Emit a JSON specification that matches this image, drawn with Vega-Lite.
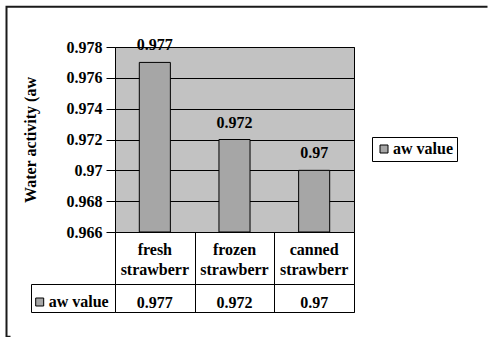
{
  "$schema": "https://vega.github.io/schema/vega-lite/v6.json",
  "autosize": {"type": "pad"},
  "padding": {"left": 5, "top": 5, "right": 0, "bottom": 0},
  "background": "white",
  "data": {"values": [
    {"sample": "fresh strawberr", "aw": 0.977, "series": "aw value"},
    {"sample": "frozen strawberr", "aw": 0.972, "series": "aw value"},
    {"sample": "canned strawberr", "aw": 0.97, "series": "aw value"}
  ]},
  "spacing": 0,
  "bounds": "flush",
  "resolve": {"scale": {"x": "independent", "y": "independent", "color": "independent"}, "legend": {"color": "independent"}},
  "config": {
    "font": "Liberation Serif",
    "view": {"stroke": "black", "strokeWidth": 1},
    "text": {"font": "Liberation Serif", "fontWeight": "bold", "fontSize": 16, "color": "black"}
  },
  "vconcat": [
    {
      "width": 239, "height": 185,
      "view": {"fill": "#C2C2C2", "stroke": "black"},
      "encoding": {"x": {"field": "sample", "type": "nominal", "sort": null, "scale": {"paddingInner": 0.61, "paddingOuter": 0.305}, "axis": null}},
      "layer": [
        {
          "mark": {"type": "bar", "stroke": "black", "strokeWidth": 1},
          "encoding": {
            "y": {"field": "aw", "type": "quantitative", "scale": {"domain": [0.966, 0.978], "zero": false, "nice": false},
              "axis": {"values": [0.966, 0.968, 0.97, 0.972, 0.974, 0.976, 0.978], "tickCount": 20, "labelOverlap": false, "format": ".3~f", "title": "Water activity (aw",
                "titleFont": "Liberation Serif", "titleFontSize": 16, "titleFontWeight": "bold", "titleColor": "black", "titlePadding": 28,
                "labelFont": "Liberation Serif", "labelFontSize": 16, "labelFontWeight": "bold", "labelColor": "black", "labelPadding": 4,
                "tickSize": 9, "tickColor": "black", "domain": false, "grid": true, "gridColor": "black", "gridOpacity": 1, "gridWidth": 1}},
            "y2": {"datum": 0.966},
            "color": {"field": "series", "type": "nominal", "scale": {"range": ["#A6A6A6"]},
              "legend": {"orient": "none", "legendX": 257, "legendY": 90, "title": null, "strokeColor": "black", "padding": 4,
                "symbolType": "square", "symbolSize": 64, "symbolStrokeColor": "black", "symbolStrokeWidth": 1, "symbolOpacity": 1,
                "labelFont": "Liberation Serif", "labelFontSize": 16, "labelFontWeight": "bold", "labelColor": "black", "labelOffset": 1}}
          }
        },
        {
          "mark": {"type": "text", "baseline": "bottom", "dy": -9},
          "encoding": {
            "y": {"field": "aw", "type": "quantitative"},
            "text": {"field": "aw", "type": "quantitative", "format": ".3~f"}
          }
        }
      ]
    },
    {
      "width": 239, "height": 52,
      "view": {"fill": "white", "stroke": "black"},
      "encoding": {
        "x": {"field": "sample", "type": "nominal", "sort": null, "scale": {"paddingInner": 0, "paddingOuter": 0},
          "axis": {"title": null, "labels": false, "ticks": false, "domain": false, "grid": true, "gridColor": "black", "gridOpacity": 1, "tickBand": "extent"}}
      },
      "layer": [
        {
          "mark": {"type": "text", "lineBreak": " ", "lineHeight": 20, "baseline": "middle", "dy": -8},
          "encoding": {"text": {"field": "sample"}}
        },
        {
          "mark": {"type": "bar", "opacity": 0},
          "encoding": {
            "color": {"field": "series", "type": "nominal", "scale": {"range": ["white"]},
              "legend": {"orient": "none", "legendX": -108.5, "legendY": -225.2, "title": null, "padding": 160,
                "strokeColor": "#1a1a1a", "symbolOpacity": 0, "symbolSize": 1, "labelOpacity": 0, "labelFontSize": 10, "labelLimit": 149,
                "labelExpr": "'llllllllllllllllllllllllllllllllllllllllllllllllllllllllllllllllllllllllllllllllllllllllllllllllllllll'",
                "encode": {"legend": {"update": {"strokeWidth": {"value": 2}, "strokeDash": {"value": [481, 811, 400]}}}}}}
          }
        }
      ]
    },
    {
      "width": 239, "height": 28,
      "view": {"fill": "white", "stroke": "black"},
      "encoding": {
        "x": {"field": "sample", "type": "nominal", "sort": null, "scale": {"paddingInner": 0, "paddingOuter": 0},
          "axis": {"title": null, "labels": false, "ticks": false, "domain": false, "grid": true, "gridColor": "black", "gridOpacity": 1, "tickBand": "extent"}}
      },
      "layer": [
        {
          "mark": {"type": "text", "baseline": "middle", "dy": 5},
          "encoding": {
            "y": {"datum": 0.5, "type": "quantitative", "scale": {"domain": [0, 1], "nice": false, "zero": false},
              "axis": {"values": [0, 1], "offset": 84, "domain": true, "domainColor": "black", "ticks": true, "tickSize": -84, "tickColor": "black", "labels": false, "grid": false, "title": null}},
            "text": {"field": "aw", "type": "quantitative", "format": ".3~f"}
          }
        },
        {
          "mark": {"type": "bar", "opacity": 0},
          "encoding": {
            "y": {"datum": 0.5, "type": "quantitative"},
            "color": {"field": "series", "type": "nominal", "scale": {"range": ["#A6A6A6"]},
              "legend": {"orient": "none", "legendX": -83.3, "legendY": 10, "title": null, "padding": 0,
                "symbolType": "square", "symbolSize": 64, "symbolStrokeColor": "black", "symbolStrokeWidth": 1, "symbolOpacity": 1,
                "labelFont": "Liberation Serif", "labelFontSize": 16, "labelFontWeight": "bold", "labelColor": "black", "labelOffset": 1}}
          }
        }
      ]
    }
  ]
}
